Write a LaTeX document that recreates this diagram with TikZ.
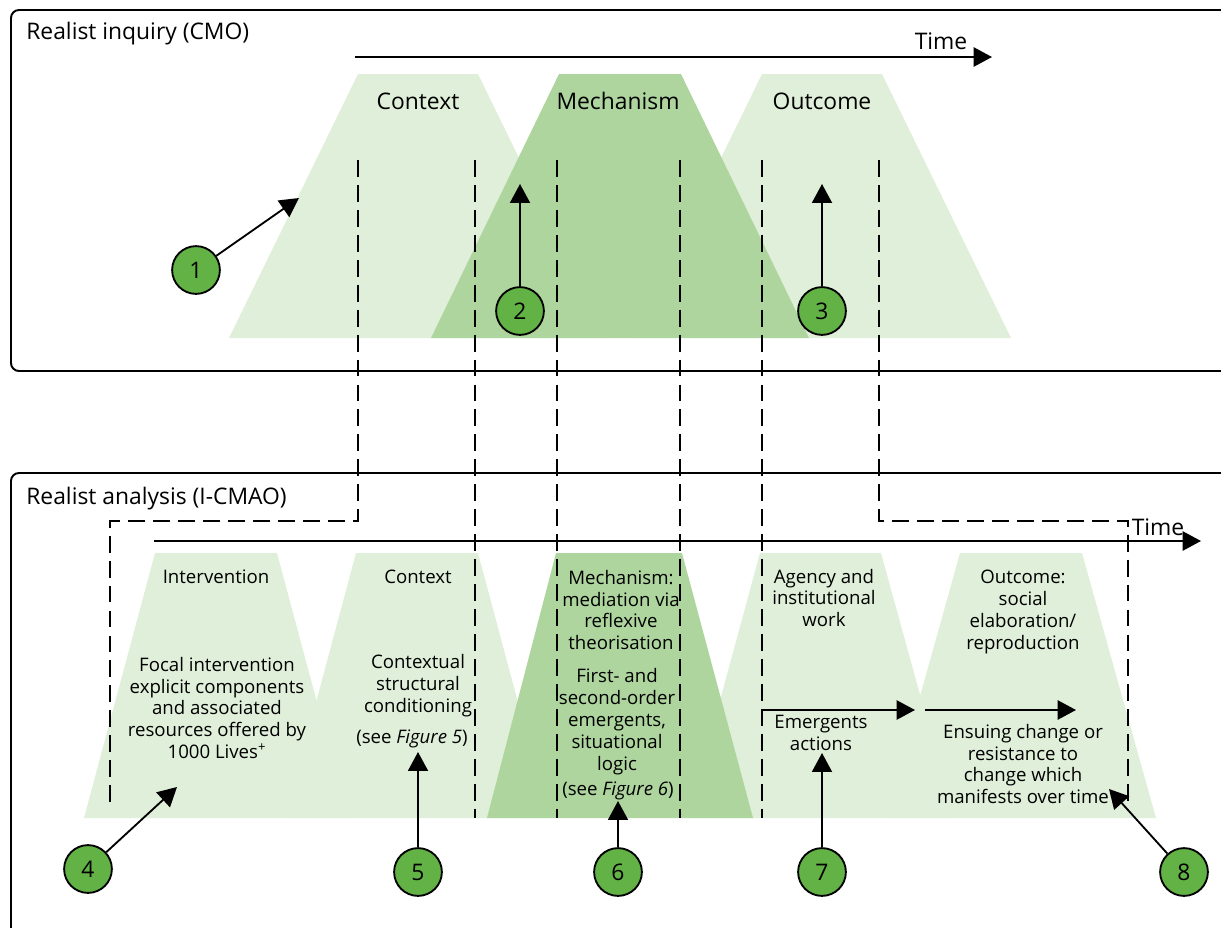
\documentclass[tikz,border=0pt]{standalone}
\usepackage{fontspec}
\setmainfont{Open Sans}
\usetikzlibrary{arrows.meta}
\definecolor{palegreen}{HTML}{E0EFD9}
\definecolor{midgreen}{HTML}{AED59E}
\definecolor{badgegreen}{HTML}{62B246}
\tikzset{
  panel/.style={black,line width=1.1pt,rounded corners=4.5pt},
  pale/.style={fill=palegreen},
  mid/.style={fill=midgreen},
  guide/.style={black,line width=1.05pt,dash pattern=on 9.6pt off 4.6pt},
  timeline/.style={black,line width=1.1pt,-{Triangle[length=10.5pt,width=11pt]}},
  pointer/.style={black,line width=1.05pt,-{Triangle[length=10.8pt,width=11.4pt]}},
  badge/.style={circle,draw=black,line width=1.05pt,fill=badgegreen,minimum size=27.2pt,inner sep=0pt,font=\fontsize{13}{15}\selectfont},
  big/.style={font=\fontsize{13}{15}\selectfont,inner sep=0pt},
  small/.style={font=\fontsize{10.6}{12.5}\selectfont,align=center,inner sep=0pt}
}
\begin{document}
\begin{tikzpicture}[x=0.02cm,y=0.02cm]
\clip (0,0) rectangle (1221,-927);
\draw [panel] (1240,-10) -- (11,-10) -- (11,-371) -- (1240,-371);
\draw [panel] (1240,-473) -- (11,-473) -- (11,-945);
% upper trapezoids
\fill [pale] (229,-338) -- (358,-74) -- (478,-74) -- (607,-338) -- cycle;
\fill [pale] (633,-338) -- (762,-74) -- (882,-74) -- (1011,-338) -- cycle;
\fill [mid] (431,-338) -- (559,-74) -- (681,-74) -- (809,-338) -- cycle;
% lower trapezoids
\fill [pale] (84,-818) -- (155,-553) -- (277,-553) -- (348,-818) -- cycle;
\fill [pale] (285,-818) -- (356,-553) -- (478,-553) -- (549,-818) -- cycle;
\fill [pale] (688,-818) -- (760,-553) -- (881,-553) -- (954,-818) -- cycle;
\fill [pale] (886,-818) -- (960,-553) -- (1082,-553) -- (1156,-818) -- cycle;
\fill [mid] (487,-818) -- (556,-553) -- (682,-553) -- (753,-818) -- cycle;
% dashed guides
\coordinate (ctxtop) at (358,-160);
\coordinate (ctxbend) at (358,-521);
\coordinate (intbend) at (110,-521);
\coordinate (intend) at (110,-803);
\coordinate (outtop) at (879,-160);
\coordinate (outbend) at (879,-521);
\coordinate (resbend) at (1128,-521);
\coordinate (resend) at (1128,-803);
\coordinate (atop) at (475,-160);
\coordinate (aend) at (475,-818);
\coordinate (btop) at (557,-160);
\coordinate (bend) at (557,-818);
\coordinate (ctop) at (680,-160);
\coordinate (cend) at (680,-818);
\coordinate (dtop) at (762,-160);
\coordinate (dend) at (762,-818);
\draw [guide] (ctxtop) -- (ctxbend) -- (intbend) -- (intend);
\draw [guide] (outtop) -- (outbend) -- (resbend) -- (resend);
\draw [guide] (atop) -- (aend);
\draw [guide] (btop) -- (bend);
\draw [guide] (ctop) -- (cend);
\draw [guide] (dtop) -- (dend);
% time axes
\coordinate (upstart) at (355,-57);
\coordinate (upend) at (992,-57);
\coordinate (lowstart) at (154,-541);
\coordinate (lowend) at (1201,-541);
\draw [timeline] (upstart) -- (upend);
\draw [timeline] (lowstart) -- (lowend);
\coordinate (emstart) at (762,-710);
\coordinate (emend) at (915,-710);
\coordinate (ensstart) at (925,-710);
\coordinate (ensend) at (1076,-710);
\draw [timeline] (emstart) -- (emend);
\draw [timeline] (ensstart) -- (ensend);
% numbered badges
\node [badge] (one) at (196,-270) {1};
\node [badge] (two) at (520,-311) {2};
\node [badge] (three) at (822,-311) {3};
\node [badge] (four) at (88,-869) {4};
\node [badge] (five) at (418,-872) {5};
\node [badge] (six) at (618,-872) {6};
\node [badge] (seven) at (822,-872) {7};
\node [badge] (eight) at (1184,-872) {8};
\coordinate (onetip) at (299,-198);
\coordinate (twotip) at (520,-184);
\coordinate (threetip) at (822,-184);
\coordinate (fourtip) at (177,-787);
\coordinate (fivetip) at (418,-752);
\coordinate (sixtip) at (618,-801);
\coordinate (seventip) at (822,-753);
\coordinate (eighttip) at (1109,-789);
\draw [pointer] (one) -- (onetip);
\draw [pointer] (two) -- (twotip);
\draw [pointer] (three) -- (threetip);
\draw [pointer] (four) -- (fourtip);
\draw [pointer] (five) -- (fivetip);
\draw [pointer] (six) -- (sixtip);
\draw [pointer] (seven) -- (seventip);
\draw [pointer] (eight) -- (eighttip);
% labels
\node [big,anchor=west] (inquiry) at (26,-34) {Realist inquiry (CMO)};
\node [big,anchor=west] (analysis) at (26,-499) {Realist analysis (I-CMAO)};
\node [big] (timeup) at (941,-41) {Time};
\node [big] (timelow) at (1158,-527) {Time};
\node [big] (upctx) at (418,-101) {Context};
\node [big] (upmech) at (618,-101) {Mechanism};
\node [big] (upout) at (822,-101) {Outcome};
\node [small] (lowint) at (216,-577) {Intervention};
\node [small] (focal) at (217,-708) {Focal intervention\\explicit components\\and associated\\resources offered by\\1000 Lives\textsuperscript{+}};
\node [small] (lowctx) at (418,-577) {Context};
\node [small] (contextual) at (418,-686) {Contextual\\structural\\conditioning};
\node [small] (seefive) at (412,-739) {(see \textit{Figure 5})};
\node [small] (lowmech) at (621,-610) {Mechanism:\\mediation via\\reflexive\\theorisation};
\node [small] (first) at (617,-722) {First- and\\second-order\\emergents,\\situational\\logic};
\node [small] (seesix) at (618,-791) {(see \textit{Figure 6})};
\node [small] (agency) at (824,-598) {Agency and\\institutional\\work};
\node [small] (emergents) at (821,-733) {Emergents\\actions};
\node [small] (lowout) at (1023,-612) {Outcome:\\social\\elaboration/\\reproduction};
\node [small] (ensuing) at (1023,-764) {Ensuing change or\\resistance to\\change which\\manifests over time};
\end{tikzpicture}
\end{document}
